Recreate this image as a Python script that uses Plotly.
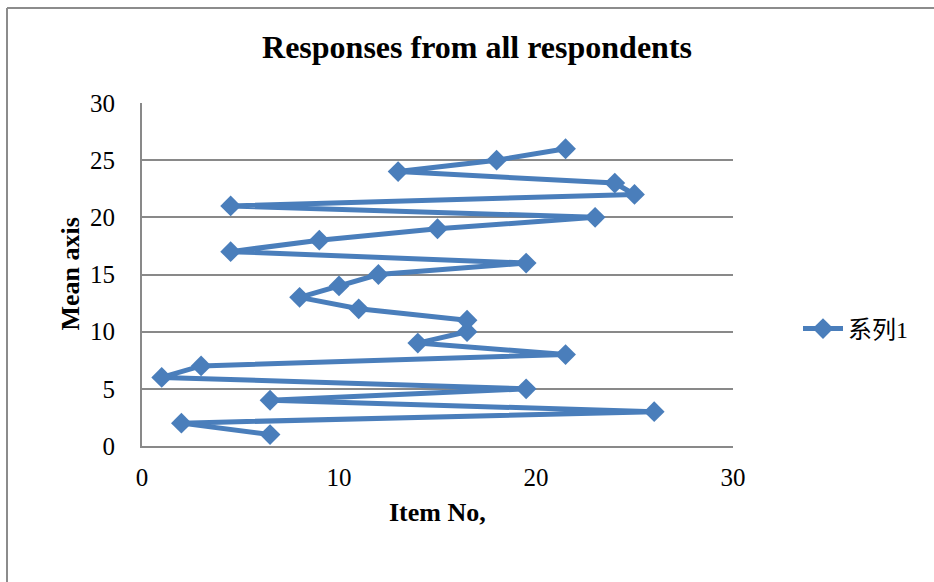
import plotly.graph_objects as go

# Data (Item No on x, Mean on y), in plotting order
item_no = [6.5, 2, 26, 6.5, 19.5, 1, 3, 21.5, 14, 16.5, 16.5, 11, 8, 10, 12, 19.5,
           4.5, 9, 15, 23, 4.5, 25, 24, 13, 18, 21.5]
mean_axis = [1, 2, 3, 4, 5, 6, 7, 8, 9, 10, 11, 12, 13, 14, 15, 16,
             17, 18, 19, 20, 21, 22, 23, 24, 25, 26]
series_name = "系列1"
title_text = "Responses from all respondents"
x_title = "Item No,"
y_title = "Mean axis"
x_ticks = [0, 10, 20, 30]
y_ticks = [0, 5, 10, 15, 20, 25, 30]

BLUE = "#4A7EBB"
GRID = "#898989"
SERIF = "Liberation Serif, Times New Roman, Noto Sans CJK SC, serif"

W, H = 934, 582
L, R, T, B = 142, 733, 103, 446

def px_x(p):
    return (p - L) / (R - L)

def px_y(p):
    return (B - p) / (B - T)

fig = go.Figure()
fig.add_trace(go.Scatter(
    x=item_no, y=mean_axis, mode="lines+markers", name=series_name,
    line=dict(color=BLUE, width=5),
    marker=dict(symbol="diamond", size=16, color=BLUE),
    showlegend=True,
))

fig.update_layout(
    width=W, height=H,
    margin=dict(l=L, r=W - R, t=T, b=H - B),
    paper_bgcolor="white", plot_bgcolor="white",
    font=dict(family=SERIF, color="black", size=25),
    title=dict(text="<b>" + title_text + "</b>", font=dict(size=32, family=SERIF),
               x=477 / W, xref="container", xanchor="center",
               y=1 - 47 / H, yref="container", yanchor="middle"),
    xaxis=dict(range=[0, 30], tickvals=x_ticks, ticktext=[str(v) for v in x_ticks],
               showgrid=False, zeroline=False, showline=True, linecolor=GRID,
               linewidth=2, ticks="", tickfont=dict(size=25),
               ticklabelstandoff=8, fixedrange=True),
    yaxis=dict(range=[0, 30], tickvals=y_ticks, ticktext=[str(v) for v in y_ticks],
               showgrid=True, gridcolor=GRID, gridwidth=1.5, zeroline=False,
               showline=True, linecolor=GRID, linewidth=2, ticks="",
               tickfont=dict(size=25), ticklabelstandoff=20, fixedrange=True),
    legend=dict(x=px_x(798), y=px_y(329), xanchor="left", yanchor="middle",
                font=dict(size=24, family=SERIF), bgcolor="rgba(0,0,0,0)",
                itemwidth=40),
    annotations=[
        dict(text="<b>" + y_title + "</b>", x=px_x(70), y=0.5, xref="paper", yref="paper",
             textangle=-90, showarrow=False, font=dict(size=26, family=SERIF),
             xanchor="center", yanchor="middle"),
        dict(text="<b>" + x_title + "</b>", x=0.5, y=px_y(512), xref="paper", yref="paper",
             showarrow=False, font=dict(size=26, family=SERIF),
             xanchor="center", yanchor="middle"),
    ],
    shapes=[
        dict(type="line", xref="paper", yref="paper", x0=px_x(7), x1=px_x(7),
             y0=px_y(8), y1=px_y(600), line=dict(color="#8C8C8C", width=2)),
        dict(type="line", xref="paper", yref="paper", x0=px_x(7), x1=px_x(950),
             y0=px_y(8), y1=px_y(8), line=dict(color="#8C8C8C", width=2)),
    ],
)

fig.write_html(
    "out.html",
    config={"displayModeBar": False},
    post_script="document.body.style.margin='0';document.body.style.overflow='hidden';",
)
